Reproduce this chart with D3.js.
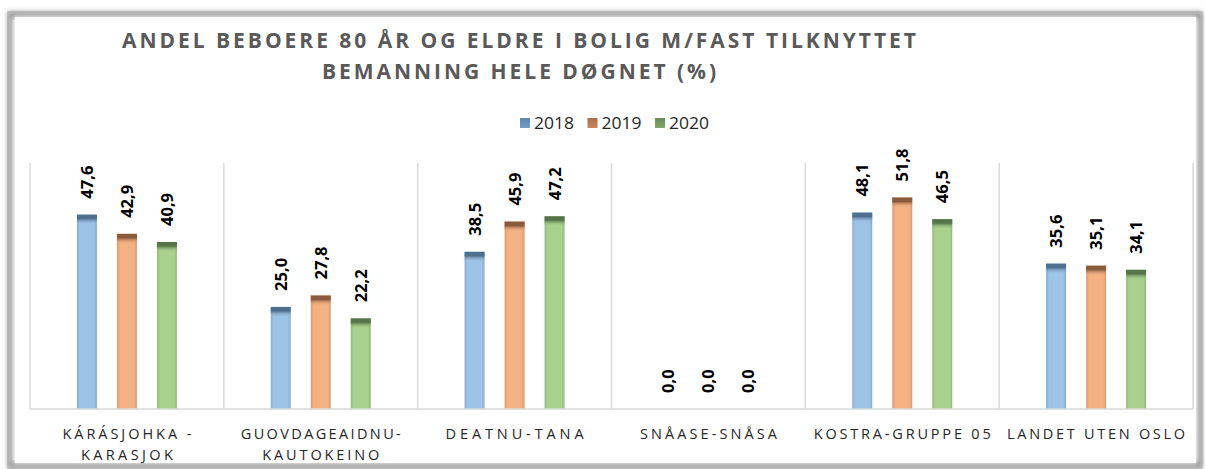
<!DOCTYPE html>
<html>
<head>
<meta charset="utf-8">
<script src="https://cdn.jsdelivr.net/npm/d3@7"></script>
<style>
  body { margin: 0; background: #fff; }
  svg { display: block; }
</style>
</head>
<body>
<svg id="chart" width="1205" height="469"></svg>
<script>
const categories = [
  ["KÁRÁSJOHKA -", "KARASJOK"],
  ["GUOVDAGEAIDNU-", "KAUTOKEINO"],
  ["DEATNU-TANA"],
  ["SNÅASE-SNÅSA"],
  ["KOSTRA-GRUPPE 05"],
  ["LANDET UTEN OSLO"]
]
const years = ["2018", "2019", "2020"]
const values2018 = [47.6, 25.0, 38.5, 0.0, 48.1, 35.6]
const values2019 = [42.9, 27.8, 45.9, 0.0, 51.8, 35.1]
const values2020 = [40.9, 22.2, 47.2, 0.0, 46.5, 34.1]
const titleLines = ["ANDEL BEBOERE 80 ÅR OG ELDRE I BOLIG M/FAST TILKNYTTET", "BEMANNING HELE DØGNET (%)"]

const series = [values2018, values2019, values2020]
const bodyColor = ["#9dc3e6", "#f4b183", "#a9d18e"]
const capColor = ["#4f6f8f", "#8a5a3c", "#56744a"]
const legendColor = ["#5f83a8", "#a8704c", "#6a8c58"]

const svg = d3.select("#chart")
const defs = svg.append("defs")

// frame with soft shadow
const blur = defs.append("filter").attr("id", "blur")
  .attr("x", "-5%").attr("y", "-5%").attr("width", "110%").attr("height", "110%")
blur.append("feGaussianBlur").attr("stdDeviation", 2.5)

svg.append("rect")
  .attr("x", 10).attr("y", 14).attr("width", 1190).attr("height", 452)
  .attr("fill", "none").attr("stroke", "#7a7a7a").attr("stroke-width", 4)
  .attr("filter", "url(#blur)")
svg.append("rect")
  .attr("x", 8).attr("y", 12).attr("width", 1194).attr("height", 456)
  .attr("fill", "none").attr("stroke", "#a8a8a8").attr("stroke-width", 1)
svg.append("rect")
  .attr("x", 15).attr("y", 17).attr("width", 1181).attr("height", 446)
  .attr("fill", "#fff")

// gradients for bars
years.forEach(function (yr, i) {
  let g = defs.append("linearGradient").attr("id", "side" + i)
    .attr("x1", 0).attr("x2", 1).attr("y1", 0).attr("y2", 0)
  g.append("stop").attr("offset", "0%").attr("stop-color", d3.color(bodyColor[i]).darker(0.35))
  g.append("stop").attr("offset", "15%").attr("stop-color", bodyColor[i])
  g.append("stop").attr("offset", "85%").attr("stop-color", bodyColor[i])
  g.append("stop").attr("offset", "100%").attr("stop-color", d3.color(bodyColor[i]).darker(0.35))

  let c = defs.append("linearGradient").attr("id", "cap" + i)
    .attr("x1", 0).attr("x2", 0).attr("y1", 0).attr("y2", 1)
  c.append("stop").attr("offset", "0%").attr("stop-color", capColor[i])
  c.append("stop").attr("offset", "40%").attr("stop-color", capColor[i])
  c.append("stop").attr("offset", "100%").attr("stop-color", bodyColor[i]).attr("stop-opacity", 0)

  let lg = defs.append("linearGradient").attr("id", "leg" + i)
    .attr("x1", 0).attr("x2", 0).attr("y1", 0).attr("y2", 1)
  lg.append("stop").attr("offset", "0%").attr("stop-color", legendColor[i])
  lg.append("stop").attr("offset", "100%").attr("stop-color", d3.color(legendColor[i]).brighter(0.5))
})

const x0 = d3.scaleBand()
  .domain(d3.range(categories.length))
  .range([30, 1193])
  .padding(0)

const bw = x0.bandwidth()
const x1 = d3.scaleBand()
  .domain(years)
  .range([bw / 2 - 60, bw / 2 + 60])
  .paddingInner(0.5)
  .paddingOuter(0.25)

const y = d3.scaleLinear().domain([0, 60]).range([409, 164])

// title
const title = svg.append("g")
title.selectAll("text")
  .data(titleLines)
  .enter()
  .append("text")
  .attr("x", 519)
  .attr("y", (d, i) => 48 + i * 31)
  .attr("text-anchor", "middle")
  .attr("font-family", "'Open Sans', 'Liberation Sans', sans-serif")
  .attr("font-weight", "bold")
  .attr("font-size", 21)
  .attr("fill", "#595959")
  .attr("textLength", (d, i) => i == 0 ? 794 : 394)
  .attr("lengthAdjust", "spacing")
  .text(d => d)

// legend
const legend = svg.append("g").attr("transform", "translate(520,123)")
years.forEach(function (yr, i) {
  let item = legend.append("g").attr("transform", "translate(" + (i * 67.5) + ",0)")
  item.append("rect")
    .attr("x", 0).attr("y", -5).attr("width", 10).attr("height", 10)
    .attr("fill", "url(#leg" + i + ")")
  item.append("text")
    .attr("x", 14).attr("y", 0).attr("dy", "0.36em")
    .attr("font-family", "'Open Sans', 'Liberation Sans', sans-serif")
    .attr("font-size", 15.5)
    .attr("fill", "#262626")
    .attr("textLength", 40)
    .attr("lengthAdjust", "spacingAndGlyphs")
    .text(yr)
})

// category dividers
svg.append("g")
  .selectAll("line")
  .data(d3.range(categories.length + 1))
  .enter()
  .append("line")
  .attr("x1", d => d < categories.length ? x0(d) : x0(d - 1) + bw)
  .attr("x2", d => d < categories.length ? x0(d) : x0(d - 1) + bw)
  .attr("y1", y(60) - 1)
  .attr("y2", y(0))
  .attr("stroke", "#d9d9d9")
  .attr("stroke-width", 1.5)

// bars
const groups = svg.append("g")
  .selectAll("g")
  .data(categories)
  .enter()
  .append("g")
  .attr("transform", (d, i) => "translate(" + x0(i) + ",0)")

groups.each(function (cat, ci) {
  let g = d3.select(this)
  years.forEach(function (yr, si) {
    let v = series[si][ci]
    let top = y(v)
    let h = y(0) - top
    if (h > 0) {
      g.append("rect")
        .attr("x", x1(yr)).attr("y", top)
        .attr("width", x1.bandwidth()).attr("height", h)
        .attr("fill", "url(#side" + si + ")")
      g.append("rect")
        .attr("x", x1(yr)).attr("y", top)
        .attr("width", x1.bandwidth()).attr("height", Math.min(10, h))
        .attr("fill", "url(#cap" + si + ")")
    }
    g.append("text")
      .attr("transform", "translate(" + (x1(yr) + x1.bandwidth() / 2) + "," + (top - 16) + ") rotate(-90)")
      .attr("dy", "0.36em")
      .attr("font-family", "'Open Sans', 'Liberation Sans', sans-serif")
      .attr("font-weight", "bold")
      .attr("font-size", 16.5)
      .attr("fill", "#000")
      .text(d3.format(".1f")(v).replace(".", ","))
  })
})

// baseline
svg.append("line")
  .attr("x1", 30).attr("x2", 1193)
  .attr("y1", y(0)).attr("y2", y(0))
  .attr("stroke", "#d9d9d9").attr("stroke-width", 1.5)

// category labels
const labelWidths = [[129, 92], [160, 117], [138], [137], [177], [178]]
groups.each(function (cat, ci) {
  let g = d3.select(this)
  cat.forEach(function (line, li) {
    g.append("text")
      .attr("x", bw / 2)
      .attr("y", 439 + li * 21)
      .attr("text-anchor", "middle")
      .attr("font-family", "'Open Sans', 'Liberation Sans', sans-serif")
      .attr("font-size", 14.5)
      .attr("fill", "#262626")
      .attr("textLength", labelWidths[ci][li])
      .attr("lengthAdjust", "spacing")
      .text(line)
  })
})
</script>
</body>
</html>
